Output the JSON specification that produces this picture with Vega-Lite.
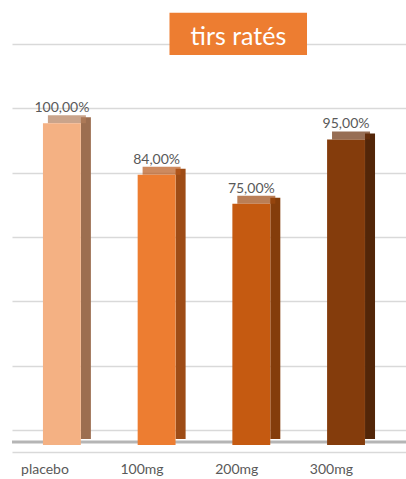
{
  "$schema": "https://vega.github.io/schema/vega-lite/v6.json",
  "width": 394,
  "height": 386,
  "autosize": "none",
  "padding": {"left": 12, "top": 44, "right": 0, "bottom": 49},
  "background": "white",
  "config": {
    "view": {"stroke": null},
    "font": "Lato",
    "locale": {"number": {"decimal": ",", "thousands": "\u00a0", "grouping": [3], "currency": ["", " €"], "percent": "%"}}
  },
  "data": {"values": [
    {"dose": "placebo", "rate": 1.0},
    {"dose": "100mg", "rate": 0.84},
    {"dose": "200mg", "rate": 0.75},
    {"dose": "300mg", "rate": 0.95}
  ]},
  "resolve": {"scale": {"color": "independent"}},
  "layer": [
    {
      "data": {"values": [{"floor": 0}]},
      "mark": {"type": "rule", "color": "#5a5a5a", "strokeWidth": 3, "opacity": 0.45, "yOffset": 12},
      "encoding": {"y": {"field": "floor", "type": "quantitative"}}
    },
    {
      "mark": {"type": "bar", "width": 10, "xOffset": 24, "yOffset": 9},
      "encoding": {
        "x": {"field": "dose", "type": "nominal"},
        "y": {"field": "rate", "type": "quantitative"},
        "color": {"field": "dose", "type": "nominal", "legend": null,
          "scale": {"domain": ["placebo", "100mg", "200mg", "300mg"], "range": ["#9C6E50", "#9E4C16", "#843D0B", "#532608"]}}
      }
    },
    {
      "mark": {"type": "tick", "size": 38, "thickness": 8, "xOffset": 5, "yOffset": 11, "orient": "horizontal"},
      "encoding": {
        "x": {"field": "dose", "type": "nominal"},
        "y": {"field": "rate", "type": "quantitative"},
        "color": {"field": "dose", "type": "nominal", "legend": null,
          "scale": {"domain": ["placebo", "100mg", "200mg", "300mg"], "range": ["#B47D5A", "#B8591B", "#9C470E", "#6B310B"]}}
      }
    },
    {
      "mark": {"type": "bar", "yOffset": 15},
      "encoding": {
        "x": {
          "field": "dose", "type": "nominal", "sort": ["placebo", "100mg", "200mg", "300mg"],
          "scale": {"domain": ["placebo", "100mg", "200mg", "300mg"], "paddingInner": 0.6, "paddingOuter": 0.38, "align": 0.43},
          "axis": {"title": null, "ticks": false, "tickSize": 0, "grid": false, "domainColor": "#D9D9D9", "domainWidth": 1.5, "offset": 22,
            "labelFlush": false, "labelBound": false,
            "labelPadding": 17, "labelFontSize": 14, "labelColor": "#595959", "labelFont": "Lato", "labelOffset": 7, "labelAngle": 0}
        },
        "y": {
          "field": "rate", "type": "quantitative",
          "scale": {"domain": [0, 1.2], "nice": false, "zero": true},
          "axis": {"title": null, "labels": false, "ticks": false, "domain": false, "grid": true,
            "gridColor": "#D9D9D9", "gridWidth": 1.5, "values": [0, 0.2, 0.4, 0.6, 0.8, 1.0, 1.2]}
        },
        "color": {"field": "dose", "type": "nominal", "legend": null,
          "scale": {"domain": ["placebo", "100mg", "200mg", "300mg"], "range": ["#F4B183", "#ED7D31", "#C55A11", "#843C0C"]}}
      }
    },
    {
      "mark": {"type": "text", "baseline": "middle", "align": "center", "fontSize": 14, "color": "#595959", "font": "Lato"},
      "encoding": {
        "x": {"field": "dose", "type": "nominal"},
        "y": {"field": "rate", "type": "quantitative"},
        "text": {"field": "rate", "type": "quantitative", "format": ".2%"}
      }
    },
    {
      "data": {"values": [{"t": "tirs ratés"}]},
      "layer": [
        {
          "mark": {"type": "rect", "color": "#ED7D31"},
          "encoding": {
            "x": {"datum": "100mg", "bandPosition": 0.84},
            "x2": {"datum": "300mg", "bandPosition": -0.53},
            "y": {"datum": 1.297},
            "y2": {"datum": 1.166}
          }
        },
        {
          "mark": {"type": "text", "color": "white", "fontSize": 25, "font": "Lato", "align": "center", "baseline": "alphabetic"},
          "encoding": {
            "x": {"datum": "200mg", "bandPosition": 0.16},
            "y": {"datum": 1.197},
            "text": {"field": "t"}
          }
        }
      ]
    }
  ]
}
